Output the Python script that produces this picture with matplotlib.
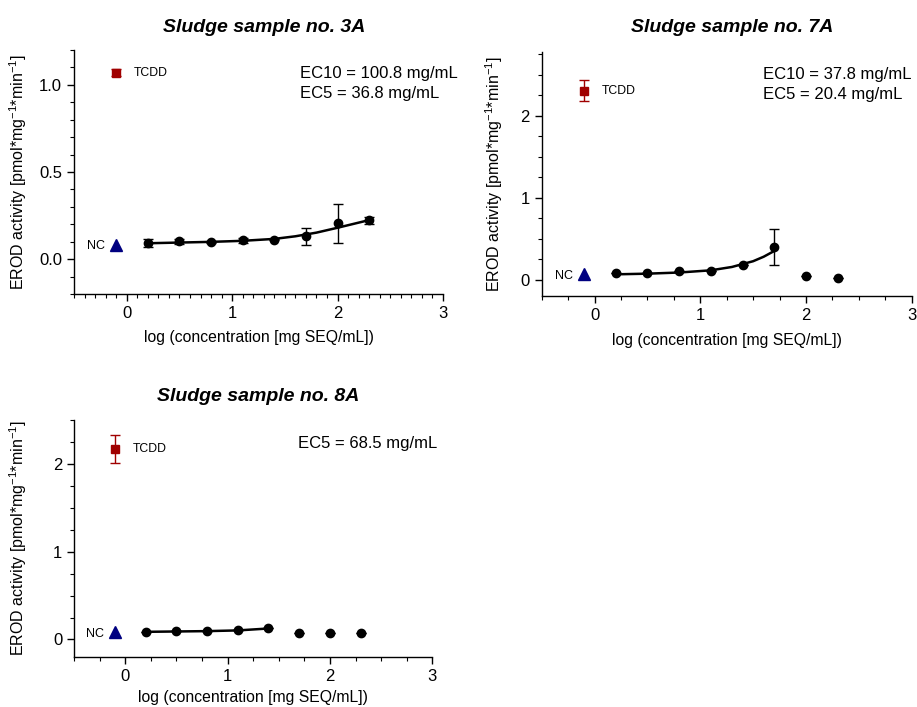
"""EROD activity dose-response panels for three sludge samples."""

import matplotlib
matplotlib.use("Agg")
import matplotlib.pyplot as plt
from matplotlib.ticker import MultipleLocator

plt.rcParams["font.family"] = ["Liberation Sans", "DejaVu Sans"]
plt.rcParams["mathtext.fontset"] = "custom"
plt.rcParams["mathtext.rm"] = "Liberation Sans"
plt.rcParams["mathtext.it"] = "Liberation Sans:italic"
plt.rcParams["mathtext.bf"] = "Liberation Sans:bold"

# log concentration of the sample dilutions
log_conc = [0.2, 0.5, 0.8, 1.1, 1.4, 1.7, 2.0, 2.3]

# Sample 3A
s3a_mean = [0.091, 0.103, 0.099, 0.108, 0.112, 0.131, 0.205, 0.222]
s3a_err = [0.023, 0.015, 0.005, 0.015, 0.005, 0.048, 0.11, 0.018]
s3a_fit_x = [0.2, 0.5, 0.8, 1.1, 1.4, 1.6, 1.8, 2.0, 2.15, 2.3]
s3a_fit_y = [0.091, 0.095, 0.099, 0.105, 0.116, 0.131, 0.152, 0.180, 0.202, 0.224]

# Sample 7A
s7a_mean = [0.081, 0.085, 0.10, 0.10, 0.175, 0.40, 0.04, 0.024]
s7a_err = [0, 0, 0, 0, 0, 0.22, 0, 0]
s7a_fit_x = [0.2, 0.5, 0.8, 1.1, 1.3, 1.5, 1.6, 1.7]
s7a_fit_y = [0.065, 0.073, 0.087, 0.114, 0.155, 0.225, 0.280, 0.350]

# Sample 8A
s8a_mean = [0.087, 0.091, 0.095, 0.106, 0.129, 0.076, 0.068, 0.068]
s8a_err = [0, 0, 0, 0, 0, 0, 0, 0]
s8a_fit_x = [0.2, 0.5, 0.8, 1.1, 1.4]
s8a_fit_y = [0.087, 0.091, 0.095, 0.103, 0.125]

# controls: positive (TCDD) and negative (NC)
ctrl_x = -0.1
tcdd_mean = [1.07, 2.31, 2.17]
tcdd_err = [0.02, 0.134, 0.165]
nc_mean = [0.082, 0.065, 0.08]

titles = ["Sludge sample no. 3A", "Sludge sample no. 7A", "Sludge sample no. 8A"]
ec_lines = [
    ["EC10 = 100.8 mg/mL", "EC5 = 36.8 mg/mL"],
    ["EC10 = 37.8 mg/mL", "EC5 = 20.4 mg/mL"],
    ["EC5 = 68.5 mg/mL"],
]

panels = [
    dict(rect=[0.0807, 0.5842, 0.4024, 0.3451], ylim=(-0.2, 1.2), ymaj=0.5, ymin=0.1,
         xmin=0.1, yfmt="{:.1f}", mean=s3a_mean, err=s3a_err,
         fx=s3a_fit_x, fy=s3a_fit_y, ec_x=0.6125, ec_y=[0.902, 0.82],
         ylab_x=-0.122, title_pad=13, xlab_pad=7),
    dict(rect=[0.5907, 0.5813, 0.4035, 0.3451], ylim=(-0.2, 2.78), ymaj=1, ymin=0.25,
         xmin=0.25, yfmt="{:.0f}", mean=s7a_mean, err=s7a_err,
         fx=s7a_fit_x, fy=s7a_fit_y, ec_x=0.598, ec_y=[0.906, 0.824],
         ylab_x=-0.099, title_pad=14.5, xlab_pad=7),
    dict(rect=[0.0807, 0.0707, 0.3907, 0.3352], ylim=(-0.2, 2.5), ymaj=1, ymin=0.25,
         xmin=0.25, yfmt="{:.0f}", mean=s8a_mean, err=s8a_err,
         fx=s8a_fit_x, fy=s8a_fit_y, ec_x=0.625, ec_y=[0.903],
         ylab_x=-0.126, title_pad=13.5, xlab_pad=4.5),
]

fig = plt.figure(figsize=(9.17, 7.07), dpi=100)

for i, p in enumerate(panels):
    ax = fig.add_axes(p["rect"])

    # fitted curve
    ax.plot(p["fx"], p["fy"], color="black", lw=1.8, zorder=2)
    # sample points
    ax.errorbar(log_conc, p["mean"], yerr=p["err"], fmt="o", color="black",
                ms=6, elinewidth=1, capsize=3.5, capthick=1, zorder=3)
    # controls
    ax.errorbar([ctrl_x], [tcdd_mean[i]], yerr=[tcdd_err[i]], fmt="s",
                color="#A00000", ms=6, elinewidth=1, capsize=3.5, capthick=1)
    ax.plot([ctrl_x], [nc_mean[i]], marker="^", color="#000080", ms=8, ls="none")
    ax.annotate("TCDD", (ctrl_x, tcdd_mean[i]), xytext=(13, 0),
                textcoords="offset points", fontsize=8.8, va="center")
    ax.annotate("NC", (ctrl_x, nc_mean[i]), xytext=(-8, -1),
                textcoords="offset points", fontsize=9, va="center", ha="right")

    for line, yy in zip(ec_lines[i], p["ec_y"]):
        ax.text(p["ec_x"], yy, line, transform=ax.transAxes, fontsize=12,
                va="center", ha="left")

    ax.set_xlim(-0.5, 3)
    ax.set_ylim(*p["ylim"])
    ax.xaxis.set_major_locator(MultipleLocator(1))
    ax.xaxis.set_minor_locator(MultipleLocator(p["xmin"]))
    ax.yaxis.set_major_locator(MultipleLocator(p["ymaj"]))
    ax.yaxis.set_minor_locator(MultipleLocator(p["ymin"]))
    fmt = p["yfmt"]
    ax.yaxis.set_major_formatter(plt.FuncFormatter(lambda v, _, f=fmt: f.format(v)))

    for side in ("top", "right"):
        ax.spines[side].set_visible(False)
    for side in ("left", "bottom"):
        ax.spines[side].set_linewidth(1)
    ax.tick_params(which="major", direction="out", length=5, width=1, labelsize=12)
    ax.tick_params(which="minor", direction="out", length=3, width=0.8)

    ax.set_title(titles[i], fontsize=14, fontweight="bold", style="italic",
                 pad=p["title_pad"], x=0.515)
    ax.set_xlabel("log (concentration [mg SEQ/mL])", fontsize=11.3,
                  labelpad=p["xlab_pad"])
    ax.set_ylabel("EROD activity [pmol*mg$^{-1}$*min$^{-1}$]", fontsize=11.5)
    ax.yaxis.set_label_coords(p["ylab_x"], 0.5)

fig.savefig("out.png", dpi=100)
